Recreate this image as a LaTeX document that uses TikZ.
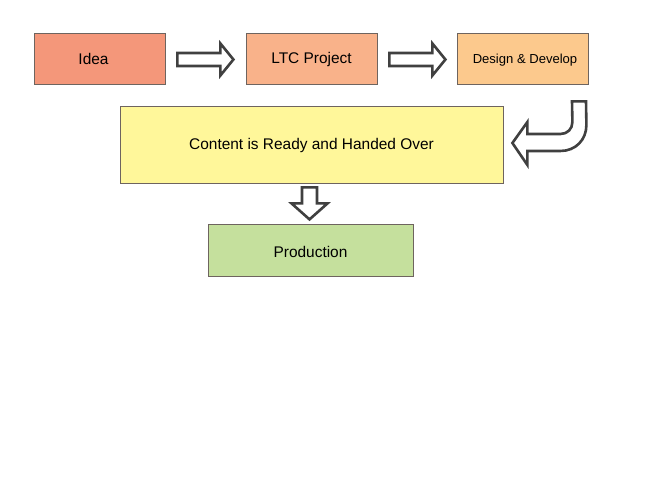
\documentclass[tikz,border=0pt]{standalone}
\usepackage{fontspec}
\setmainfont{Liberation Sans}
\usetikzlibrary{calc}
\definecolor{ideacol}{RGB}{244,151,122}
\definecolor{ltccol}{RGB}{249,178,138}
\definecolor{designcol}{RGB}{252,201,141}
\definecolor{contentcol}{RGB}{255,247,154}
\definecolor{prodcol}{RGB}{197,224,157}
\definecolor{edgecol}{RGB}{110,100,95}
\definecolor{arrowcol}{RGB}{64,64,64}
\tikzstyle{stage}=[rectangle, draw=edgecol, line width=0.8bp, inner sep=0pt, text height=10bp, text depth=0bp, font=\fontsize{15.5}{18}\selectfont]
\tikzstyle{blockarrow}=[draw=arrowcol, line width=2.6bp, fill=white, line join=miter]

\begin{document}
\begin{tikzpicture}[x=1bp, y=-1bp]
\useasboundingbox[fill=white] (0,0) rectangle (667,500);

\node[stage, fill=ideacol, minimum width=131bp, minimum height=51bp, text height=12.4bp] (idea) at (99.5,58.5) {\hspace*{-12bp}Idea};
\node[stage, fill=ltccol, minimum width=131bp, minimum height=51bp] (ltc) at (311.5,58.5) {LTC Project};
\node[stage, fill=designcol, minimum width=131bp, minimum height=51bp, font=\fontsize{13.1}{15}\selectfont] (design) at (522.5,58.5) {\hspace*{5bp}Design \& Develop};
\node[stage, fill=contentcol, minimum width=383bp, minimum height=77bp] (content) at (311.5,144.5) {Content is Ready and Handed Over};
\node[stage, fill=prodcol, minimum width=205bp, minimum height=52bp, text height=16bp] (production) at (310.5,250) {Production};

% idea to ltc
\draw[blockarrow] ($(idea.east)+(12,-5.5)$) -- ($(idea.east)+(55,-5.5)$) -- ($(idea.east)+(55,-15)$)
  -- ($(idea.east)+(68,1)$) -- ($(idea.east)+(55,17)$) -- ($(idea.east)+(55,7.5)$) -- ($(idea.east)+(12,7.5)$) -- cycle;
% ltc to design
\draw[blockarrow] ($(ltc.east)+(12,-5.5)$) -- ($(ltc.east)+(55,-5.5)$) -- ($(ltc.east)+(55,-15)$)
  -- ($(ltc.east)+(68,1)$) -- ($(ltc.east)+(55,17)$) -- ($(ltc.east)+(55,7.5)$) -- ($(ltc.east)+(12,7.5)$) -- cycle;
% design to content
\draw[blockarrow] ($(content.east)+(24,-10.5)$) -- ($(content.east)+(57,-10.5)$)
  .. controls ($(content.east)+(64,-10.5)$) and ($(content.east)+(69,-15.5)$) .. ($(content.east)+(69,-22.5)$)
  -- ($(design.south)+(49.5,17)$) -- ($(design.south)+(63.5,17)$) -- ($(content.east)+(83,-19.5)$)
  .. controls ($(content.east)+(83,-4.5)$) and ($(content.east)+(72,6.5)$) .. ($(content.east)+(57,6.5)$)
  -- ($(content.east)+(24,6.5)$) -- ($(content.east)+(24,20.5)$) -- ($(content.east)+(9,-1.5)$)
  -- ($(content.east)+(24,-22.5)$) -- cycle;
% content to production
\draw[blockarrow] ($(content.south)+(-9.5,4)$) -- ($(content.south)+(-9.5,20)$) -- ($(content.south)+(-20,20)$)
  -- ($(content.south)+(-2,36)$) -- ($(content.south)+(16,20)$) -- ($(content.south)+(5.5,20)$) -- ($(content.south)+(5.5,4)$) -- cycle;
\end{tikzpicture}
\end{document}
